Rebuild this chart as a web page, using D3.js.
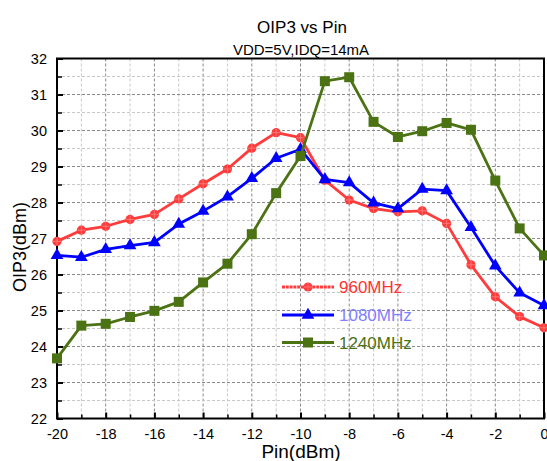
<!DOCTYPE html>
<html><head><meta charset="utf-8">
<script src="https://cdn.jsdelivr.net/npm/d3@7"></script>
<style>body{margin:0;background:#fff}svg{display:block;font-family:"Liberation Sans",Arial,sans-serif}</style>
</head><body><svg id="c" width="547" height="461"></svg>
<script>
const pin = [-20,-19,-18,-17,-16,-15,-14,-13,-12,-11,-10,-9,-8,-7,-6,-5,-4,-3,-2,-1,0];
const s960  = [26.92,27.23,27.34,27.53,27.67,28.10,28.52,28.93,29.51,29.94,29.80,28.62,28.07,27.83,27.74,27.77,27.42,26.27,25.38,24.83,24.52];
const s1080 = [26.53,26.48,26.70,26.80,26.89,27.40,27.76,28.16,28.67,29.23,29.48,28.64,28.55,27.99,27.83,28.37,28.33,27.31,26.24,25.49,25.14];
const s1240 = [23.67,24.58,24.63,24.82,24.99,25.24,25.78,26.30,27.12,28.26,29.29,31.37,31.48,30.24,29.82,29.98,30.21,30.02,28.61,27.28,26.53];
const seriesNames = ["960MHz","1080MHz","1240MHz"];
const xTicks = [-20,-18,-16,-14,-12,-10,-8,-6,-4,-2,0];
const yTicks = [22,23,24,25,26,27,28,29,30,31,32];

const svg = d3.select("#c");
const L=57, R=544, T=58.5, B=418.5;
const x = d3.scaleLinear().domain([-20,0]).range([L,R]);
const y = d3.scaleLinear().domain([22,32]).range([B,T]);

// grid
const g = svg.append("g");
d3.range(-19,0,1).forEach(v=>{
  const major = v%2===0;
  g.append("line").attr("x1",x(v)).attr("x2",x(v)).attr("y1",T).attr("y2",B)
   .attr("stroke",major?"#8a8a8a":"#c8c8c8").attr("stroke-width",1).attr("stroke-dasharray","3,2");
});
d3.range(22.5,32,0.5).forEach(v=>{
  const major = Math.abs(v-Math.round(v))<1e-6;
  g.append("line").attr("x1",L).attr("x2",R).attr("y1",y(v)).attr("y2",y(v))
   .attr("stroke",major?"#8a8a8a":"#c8c8c8").attr("stroke-width",1).attr("stroke-dasharray","3,2");
});

// axes
const xAxis = d3.axisBottom(x).tickValues(xTicks).tickSize(-6).tickPadding(10).tickFormat(d=>String(d));
const ax = svg.append("g").attr("transform",`translate(0,${B})`).call(xAxis);
ax.select(".domain").remove();
ax.selectAll(".tick line").attr("stroke","#000").attr("stroke-width",2);
ax.selectAll("text").attr("font-size",14.5).attr("fill","#000").attr("font-family","Liberation Sans, Arial, sans-serif");
const xMinor = d3.axisBottom(x).tickValues(d3.range(-19,0,2)).tickSize(-4).tickFormat("");
const axm = svg.append("g").attr("transform",`translate(0,${B})`).call(xMinor);
axm.select(".domain").remove();
axm.selectAll(".tick line").attr("stroke","#000").attr("stroke-width",1.5);

const yAxis = d3.axisLeft(y).tickValues(yTicks).tickSize(-6).tickPadding(10).tickFormat(d=>String(d));
const ay = svg.append("g").attr("transform",`translate(${L},0)`).call(yAxis);
ay.select(".domain").remove();
ay.selectAll(".tick line").attr("stroke","#000").attr("stroke-width",2);
ay.selectAll("text").attr("font-size",14.5).attr("fill","#000").attr("font-family","Liberation Sans, Arial, sans-serif");
const yMinor = d3.axisLeft(y).tickValues(d3.range(22.5,32,1)).tickSize(-5).tickFormat("");
const aym = svg.append("g").attr("transform",`translate(${L},0)`).call(yMinor);
aym.select(".domain").remove();
aym.selectAll(".tick line").attr("stroke","#000").attr("stroke-width",1.5);

// frame
svg.append("rect").attr("x",L).attr("y",T).attr("width",R-L).attr("height",B-T)
  .attr("fill","none").attr("stroke","#000").attr("stroke-width",2);

// series
const defs = [
  {vals:s960, color:"#ff3c3c", text:"#ff3333", marker:"circle"},
  {vals:s1080, color:"#0000ff", text:"#7f7fff", marker:"triangle"},
  {vals:s1240, color:"#4b7314", text:"#4b7314", marker:"square"}
];
const line = d3.line().x(d=>x(d[0])).y(d=>y(d[1]));
function drawMarker(sel, type, cx, cy, color){
  if(type==="circle"){
    sel.append("circle").attr("cx",cx).attr("cy",cy).attr("r",4.6).attr("fill",color);
    sel.append("line").attr("x1",cx-4).attr("x2",cx+4).attr("y1",cy).attr("y2",cy).attr("stroke","#ff8080").attr("stroke-width",0.8);
    sel.append("line").attr("x1",cx).attr("x2",cx).attr("y1",cy-4).attr("y2",cy+4).attr("stroke","#ff8080").attr("stroke-width",0.8);
  } else if(type==="triangle"){
    const s=d3.symbol().type(d3.symbolTriangle).size(70);
    sel.append("path").attr("d",s()).attr("transform",`translate(${cx},${cy})`).attr("fill",color);
  } else {
    sel.append("rect").attr("x",cx-5).attr("y",cy-5).attr("width",10).attr("height",10).attr("fill",color);
  }
}
defs.forEach(d=>{
  const pts = pin.map((p,i)=>[p,d.vals[i]]);
  const gs = svg.append("g");
  gs.append("path").attr("d",line(pts)).attr("fill","none").attr("stroke",d.color)
    .attr("stroke-width",2.8).attr("stroke-linejoin","round");
  pts.forEach(p=>drawMarker(gs,d.marker,x(p[0]),y(p[1]),d.color));
});

// legend
const legY = [287, 315, 342.5];
defs.forEach((d,i)=>{
  const lg = svg.append("g");
  lg.append("line").attr("x1",282).attr("x2",334).attr("y1",legY[i]).attr("y2",legY[i])
    .attr("stroke",d.color).attr("stroke-width",2.8).attr("stroke-dasharray", i===0?"3,0.8":null);
  drawMarker(lg,d.marker,308,legY[i],d.color);
  lg.append("text").attr("x",339).attr("y",legY[i]+6).attr("font-size",17).attr("fill",d.text).text(seriesNames[i]);
});

// titles
svg.append("text").attr("x",302).attr("y",33).attr("text-anchor","middle").attr("font-size",17).text("OIP3 vs Pin");
svg.append("text").attr("x",301).attr("y",55).attr("text-anchor","middle").attr("font-size",15).text("VDD=5V,IDQ=14mA");
svg.append("text").attr("x",301).attr("y",458).attr("text-anchor","middle").attr("font-size",19).text("Pin(dBm)");
svg.append("text").attr("transform","translate(26,247) rotate(-90)").attr("text-anchor","middle").attr("font-size",18).text("OIP3(dBm)");
</script></body></html>
